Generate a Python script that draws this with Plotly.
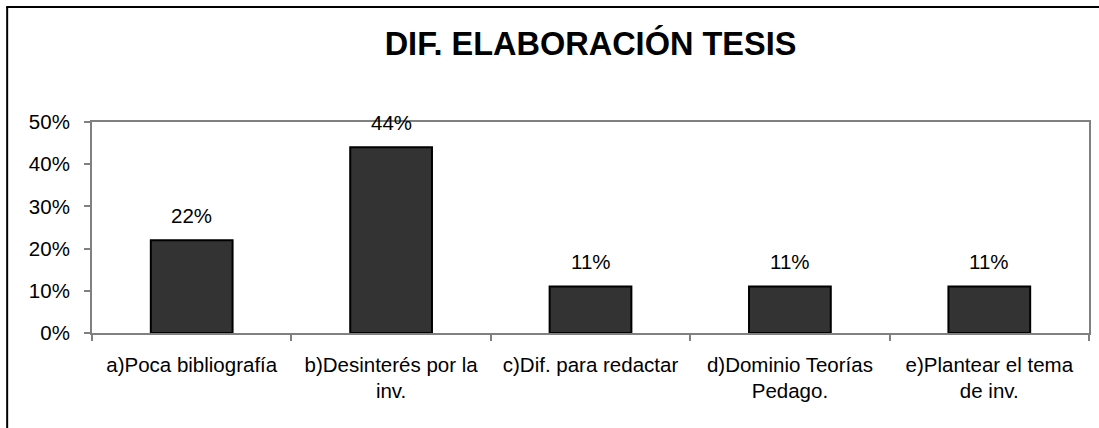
import plotly.graph_objects as go

categories = ["a)Poca bibliografía", "b)Desinterés por la<br>inv.", "c)Dif. para redactar",
              "d)Dominio Teorías<br>Pedago.", "e)Plantear el tema<br>de inv."]
values = [0.22, 0.44, 0.11, 0.11, 0.11]
labels = ["22%", "44%", "11%", "11%", "11%"]
title_text = "DIF. ELABORACIÓN TESIS"

W, H = 1099, 428
ML, MR, MT, MB = 92, 8, 122, 95
FONT = "Arial, Liberation Sans, sans-serif"
FS = 20.5

fig = go.Figure(go.Bar(
    x=categories, y=values,
    marker=dict(color="#333333", line=dict(color="#000000", width=2)),
    width=0.41,
))

for c, v, t in zip(categories, values, labels):
    fig.add_annotation(x=c, y=v, text=t, showarrow=False, yanchor="middle", yshift=25,
                       font=dict(family=FONT, size=FS, color="#000000"))

pw = W - ML - MR
ph = H - MT - MB
def px(x): return (x - ML) / pw
def py(y): return (H - MB - y) / ph

fig.add_shape(type="line", xref="paper", yref="paper", x0=px(6), x1=px(1110), y0=py(7), y1=py(7),
              line=dict(color="#000000", width=2))
fig.add_shape(type="line", xref="paper", yref="paper", x0=px(7), x1=px(7), y0=py(7), y1=py(440),
              line=dict(color="#000000", width=2))

fig.update_layout(
    width=W, height=H,
    margin=dict(l=ML, r=MR, t=MT, b=MB),
    paper_bgcolor="white", plot_bgcolor="white",
    showlegend=False,
    title=dict(text="<b>" + title_text + "</b>", x=0.5, xref="paper", xanchor="center",
               y=1 - 44 / H, yanchor="middle", yref="container",
               font=dict(family=FONT, size=32.5, color="#000000")),
    font=dict(family=FONT, size=FS, color="#000000"),
    bargap=0.59,
)
fig.update_xaxes(type="category", showline=True, linecolor="#808080", linewidth=2, mirror=True,
                 ticks="outside", tickson="boundaries", ticklen=6, tickcolor="#808080", tickwidth=2,
                 showgrid=False, ticklabelstandoff=12,
                 tickfont=dict(family=FONT, size=FS, color="#000000"))
fig.update_yaxes(range=[0, 0.5], dtick=0.1, tickformat=".0%", showline=True, linecolor="#808080",
                 linewidth=2, mirror=True, ticks="outside", ticklen=6, tickcolor="#808080", tickwidth=2,
                 showgrid=False, zeroline=False, ticklabelstandoff=10,
                 tickfont=dict(family=FONT, size=FS, color="#000000"))

fig.write_html("out.html", config={"displayModeBar": False},
               post_script="document.body.style.margin='0';document.body.style.overflow='hidden';")
